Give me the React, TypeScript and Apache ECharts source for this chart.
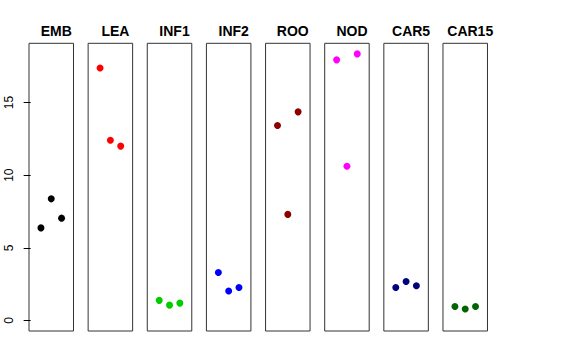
import React, { useEffect, useRef } from "react";
import * as echarts from "echarts";

const panels = ["EMB", "LEA", "INF1", "INF2", "ROO", "NOD", "CAR5", "CAR15"];
const colors = ["#000000", "#FF0000", "#00CD00", "#0000FF", "#8B0000", "#FF00FF", "#000080", "#006400"];
const values: number[][] = [
  [6.37, 8.37, 7.04],
  [17.38, 12.41, 12.0],
  [1.38, 1.05, 1.19],
  [3.3, 2.02, 2.27],
  [13.42, 7.3, 14.36],
  [17.94, 10.62, 18.35],
  [2.27, 2.68, 2.38],
  [0.96, 0.78, 0.96],
];
const yTicks = [0, 5, 10, 15];

export default function App() {
  const ref = useRef<HTMLDivElement>(null);
  useEffect(() => {
    if (!ref.current) return;
    const chart = echarts.init(ref.current, null, { renderer: "svg" });
    const left0 = 29;
    const step = 59.14;
    const w = 44.5;
    const top = 43.3;
    const height = 287.7;
    const grids = panels.map((_, i) => ({
      left: left0 + i * step,
      top,
      width: w,
      height,
      show: true,
      borderColor: "#333",
      borderWidth: 1,
      backgroundColor: "transparent",
    }));
    const xAxes = panels.map((_, i) => ({
      type: "value",
      gridIndex: i,
      min: -0.16,
      max: 4.16,
      show: false,
    }));
    const yAxes = panels.map((_, i) => ({
      type: "value",
      gridIndex: i,
      min: -0.73,
      max: 19.08,
      show: i === 0,
      splitLine: { show: false },
      axisLine: { show: false },
      axisTick: {
        show: i === 0,
        length: 7,
        customValues: yTicks,
        lineStyle: { color: "#000" },
      },
      axisLabel: {
        show: i === 0,
        customValues: yTicks,
        rotate: 90,
        margin: 14,
        fontSize: 12,
        color: "#000",
        fontFamily: "Liberation Sans, Arial, sans-serif",
      },
    }));
    const series = panels.map((_, i) => ({
      type: "scatter",
      xAxisIndex: i,
      yAxisIndex: i,
      symbol: "circle",
      symbolSize: 7,
      itemStyle: { color: colors[i], opacity: 1 },
      data: values[i].map((v, j) => [j + 1, v]),
    }));
    const titles = panels.map((p, i) => ({
      text: p,
      left: left0 + i * step + w / 2,
      textAlign: "center",
      top: 19,
      textStyle: {
        fontSize: 14,
        fontWeight: "bold",
        color: "#000",
        fontFamily: "Liberation Sans, Arial, sans-serif",
      },
    }));
    chart.setOption({
      animation: false,
      backgroundColor: "#fff",
      title: titles,
      grid: grids,
      xAxis: xAxes,
      yAxis: yAxes,
      series,
    });
    return () => chart.dispose();
  }, []);
  return (
    <div
      ref={ref}
      style={{ position: "absolute", left: 0, top: 0, width: 576, height: 360 }}
    />
  );
}
